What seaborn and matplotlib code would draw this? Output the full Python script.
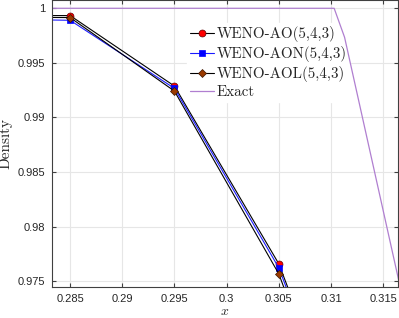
import matplotlib
matplotlib.use("Agg")
import matplotlib.pyplot as plt
import seaborn as sns
import pandas as pd
import numpy as np

# data
x_num = [0.275, 0.285, 0.295, 0.305, 0.315]
ao = [0.99935, 0.99933, 0.99287, 0.97658, 0.9515]
aon = [0.99905, 0.99890, 0.99266, 0.97621, 0.9510]
aol = [0.99920, 0.99915, 0.99241, 0.97566, 0.9500]
x_exact = [0.270, 0.3103, 0.3113, 0.320]
y_exact = [1.0, 1.0, 0.99734, 0.9600]

xticks = [0.285, 0.29, 0.295, 0.3, 0.305, 0.31, 0.315]
xtick_labels = ["0.285", "0.29", "0.295", "0.3", "0.305", "0.31", "0.315"]
yticks = [0.975, 0.98, 0.985, 0.99, 0.995, 1.0]
ytick_labels = ["0.975", "0.98", "0.985", "0.99", "0.995", "1"]

sns.set_style("white")
plt.rcParams['mathtext.fontset'] = 'cm'

fig = plt.figure(figsize=(3.99, 3.18), dpi=100)
ax = fig.add_axes([0.130, 0.097, 0.867, 0.902])

df = pd.DataFrame({"x": x_num * 3,
                   "y": ao + aon + aol,
                   "s": ["WENO-AO(5,4,3)"] * 5 + ["WENO-AON(5,4,3)"] * 5 + ["WENO-AOL(5,4,3)"] * 5})

sns.lineplot(data=df[df.s == "WENO-AO(5,4,3)"], x="x", y="y", ax=ax, color="black", lw=0.8,
             marker="o", markersize=5, markerfacecolor="red", markeredgecolor="#600000",
             markeredgewidth=0.5, label="WENO-AO(5,4,3)", estimator=None)
sns.lineplot(data=df[df.s == "WENO-AON(5,4,3)"], x="x", y="y", ax=ax, color="#1a1aff", lw=0.8,
             marker="s", markersize=4, markerfacecolor="#0000ff", markeredgecolor="#0000ff",
             markeredgewidth=0.5, label="WENO-AON(5,4,3)", estimator=None)
sns.lineplot(data=df[df.s == "WENO-AOL(5,4,3)"], x="x", y="y", ax=ax, color="black", lw=0.8,
             marker="D", markersize=4, markerfacecolor="#9a3a00", markeredgecolor="#3a1500",
             markeredgewidth=0.5, label="WENO-AOL(5,4,3)", estimator=None)
sns.lineplot(x=x_exact, y=y_exact, ax=ax, color="#b07fd0", lw=0.9, label="Exact", estimator=None)
ax.get_lines()[-1].set_zorder(7)

ax.set_xlim(0.28325, 0.3164)
ax.set_ylim(0.97445, 1.00073)
ax.set_xticks(xticks)
ax.set_xticklabels(xtick_labels)
ax.set_yticks(yticks)
ax.set_yticklabels(ytick_labels)
ax.grid(True, color="#e6e6e6", lw=0.8)
ax.set_axisbelow(True)
ax.tick_params(direction="in", length=3, labelsize=8, colors="#404040", labelcolor="#262626",
               top=True, right=True, bottom=True, left=True, pad=5)
for lab in ax.get_xticklabels() + ax.get_yticklabels():
    lab.set_family("Liberation Sans")
for sp in ax.spines.values():
    sp.set_color("#404040")
    sp.set_linewidth(0.8)
    sp.set_zorder(8)

ax.set_xlabel("$x$", fontsize=10, labelpad=0)
ax.xaxis.set_label_coords(0.5, -0.058)
ax.set_ylabel("Density", fontsize=11, family="cmr10")
ax.yaxis.set_label_coords(-0.113, 0.5)

leg = ax.legend(loc="upper left", bbox_to_anchor=(0.392, 0.92), frameon=True,
                prop={"family": "cmr10", "size": 10.8}, handlelength=1.55,
                handletextpad=0.2, labelspacing=0.25, borderpad=0.2, borderaxespad=0)
leg.get_frame().set_edgecolor("white")
leg.get_frame().set_facecolor("white")
leg.get_frame().set_alpha(1.0)
leg.set_zorder(6)

fig.savefig("out.png", dpi=100)
